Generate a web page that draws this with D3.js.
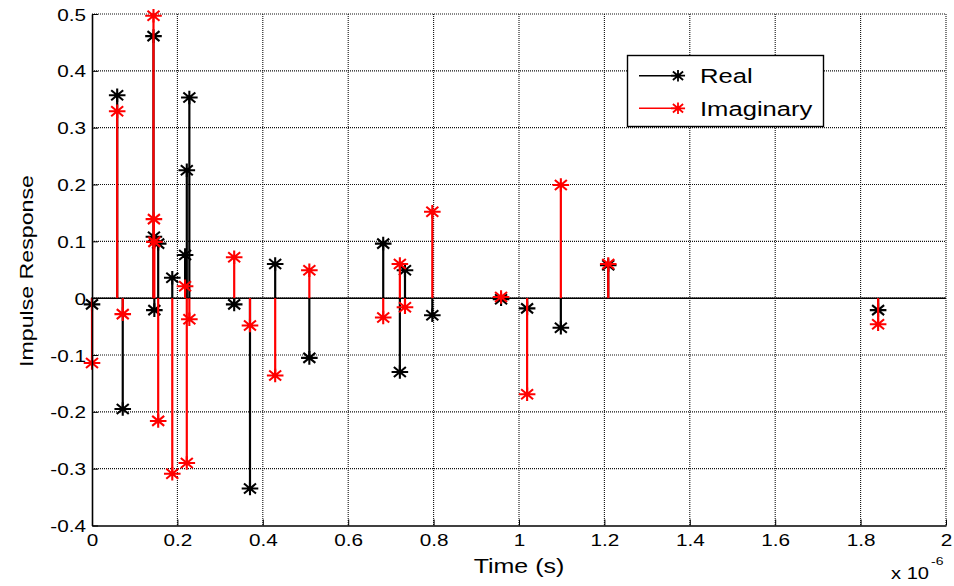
<!DOCTYPE html>
<html>
<head>
<meta charset="utf-8">
<script src="https://cdn.jsdelivr.net/npm/d3@7/dist/d3.min.js"></script>
<style>
  html, body { margin: 0; padding: 0; background: #fff; }
  svg { display: block; }
  text { font-family: "Liberation Sans", Arial, Helvetica, sans-serif; fill: #000; }
</style>
</head>
<body>
<svg id="chart" width="954" height="586"></svg>
<script>
// Sample times, in microseconds (axis multiplier x 10^-6)
const timeMicro = [0.000, 0.059, 0.072, 0.144, 0.145, 0.146, 0.155, 0.188, 0.218, 0.222, 0.228,
                   0.333, 0.370, 0.429, 0.509, 0.682, 0.721, 0.733, 0.797, 0.958, 1.019, 1.098,
                   1.209, 1.841];
// Real part of the impulse response
const realPart = [-0.011, 0.357, -0.195, 0.461, 0.108, -0.021, 0.096, 0.036, 0.076, 0.225, 0.353,
                  -0.011, -0.335, 0.060, -0.105, 0.096, -0.130, 0.049, -0.030, -0.002, -0.018, -0.052,
                  0.058, -0.021];
// Imaginary part of the impulse response
const imagPart = [-0.114, 0.329, -0.028, 0.497, 0.139, 0.099, -0.216, -0.309, 0.021, -0.290, -0.037,
                  0.072, -0.048, -0.136, 0.049, -0.034, 0.060, -0.016, 0.152, 0.002, -0.169, 0.199,
                  0.060, -0.046];

const xTicks = [0, 0.2, 0.4, 0.6, 0.8, 1, 1.2, 1.4, 1.6, 1.8, 2];
const yTicks = [-0.4, -0.3, -0.2, -0.1, 0, 0.1, 0.2, 0.3, 0.4, 0.5];
const seriesNames = ["Real", "Imaginary"];
const seriesColors = ["#000000", "#ff0000"];

// Text is drawn slightly wide, like the original figure export
const SX = 1.22;

const svg = d3.select("#chart");
const plotLeft = 92, plotRight = 946, plotTop = 14, plotBottom = 525.5;

const x = d3.scaleLinear().domain([0, 2]).range([plotLeft, plotRight]);
const y = d3.scaleLinear().domain([-0.4, 0.5]).range([plotBottom, plotTop]);

// Dotted grid
const grid = svg.append("g").attr("stroke", "#111").attr("stroke-width", 1.1)
  .attr("stroke-dasharray", "1,1");
grid.selectAll("line.gx").data(xTicks.filter(d => d > 0)).join("line")
  .attr("x1", d => x(d)).attr("x2", d => x(d)).attr("y1", plotTop).attr("y2", plotBottom);
grid.selectAll("line.gy").data(yTicks.filter(d => d > -0.4)).join("line")
  .attr("y1", d => y(d)).attr("y2", d => y(d)).attr("x1", plotLeft).attr("x2", plotRight);

// Stem baseline at zero
svg.append("line").attr("x1", plotLeft).attr("x2", plotRight)
  .attr("y1", y(0)).attr("y2", y(0)).attr("stroke", "#000").attr("stroke-width", 1.5);

// Asterisk marker: horizontal, vertical and two diagonal strokes
function asterisk(s) {
  const h = 8.3 * s, v = 6.8 * s, dx = 6 * s, dy = 5 * s;
  return `M${-h},0L${h},0M0,${-v}L0,${v}M${-dx},${-dy}L${dx},${dy}M${-dx},${dy}L${dx},${-dy}`;
}

function drawStems(values, color) {
  const g = svg.append("g");
  const pts = timeMicro.map((t, i) => ({ t, v: values[i] }));
  g.selectAll("line").data(pts).join("line")
    .attr("x1", d => x(d.t)).attr("x2", d => x(d.t))
    .attr("y1", y(0)).attr("y2", d => y(d.v))
    .attr("stroke", color).attr("stroke-width", 2.2);
  g.selectAll("path").data(pts).join("path")
    .attr("transform", d => `translate(${x(d.t)},${y(d.v)})`)
    .attr("d", asterisk(1))
    .attr("fill", "none").attr("stroke", color).attr("stroke-width", 2.1);
}
drawStems(realPart, seriesColors[0]);
drawStems(imagPart, seriesColors[1]);

// Axes with inward ticks
const xAxis = svg.append("g").attr("transform", `translate(0,${plotBottom})`)
  .call(d3.axisBottom(x).tickValues(xTicks).tickFormat(d3.format("~g"))
    .tickSizeInner(-6).tickSizeOuter(0).tickPadding(8));
const yAxis = svg.append("g").attr("transform", `translate(${plotLeft},0)`)
  .call(d3.axisLeft(y).tickValues(yTicks).tickFormat(d => d3.format("~g")(d).replace("−", "-"))
    .tickSizeInner(-6).tickSizeOuter(0).tickPadding(6));

[xAxis, yAxis].forEach(a => {
  a.select(".domain").attr("stroke", "#000").attr("stroke-width", 1.6);
  a.selectAll(".tick line").attr("stroke", "#000").attr("stroke-width", 1);
  a.selectAll("text").attr("font-size", 17)
    .attr("font-family", "Liberation Sans, Arial, sans-serif").attr("fill", "#000");
});
xAxis.selectAll("text").attr("transform", `scale(${SX},1)`);
yAxis.selectAll("text").attr("x", -6 / SX).attr("dy", "0.36em").attr("transform", `scale(${SX},1)`);

// Axis labels
function wideText(px, py, str, size, anchor, rot) {
  const g = svg.append("g").attr("transform", `translate(${px},${py})` + (rot ? ` rotate(${rot})` : ""));
  return g.append("text").attr("transform", `scale(${SX},1)`)
    .attr("font-size", size).attr("text-anchor", anchor).text(str);
}
wideText(519, 573, "Time (s)", 20.5, "middle", 0);
wideText(33, 271, "Impulse Response", 19, "middle", -90);

// Exponent multiplier for the time axis
wideText(891, 579, "x 10", 16.5, "start", 0);
wideText(931, 565, "-6", 11.5, "start", 0);

// Legend
const lg = svg.append("g");
lg.append("rect").attr("x", 627.5).attr("y", 55.5).attr("width", 196).attr("height", 71)
  .attr("fill", "#fff").attr("stroke", "#000").attr("stroke-width", 1.4);
const rowsY = [75.7, 108.3];
seriesNames.forEach((name, i) => {
  const yy = rowsY[i];
  lg.append("line").attr("x1", 639).attr("x2", 678).attr("y1", yy).attr("y2", yy)
    .attr("stroke", seriesColors[i]).attr("stroke-width", 1.4);
  lg.append("path").attr("transform", `translate(678,${yy})`).attr("d", asterisk(0.85))
    .attr("fill", "none").attr("stroke", seriesColors[i]).attr("stroke-width", 1.8);
  const tg = lg.append("g").attr("transform", `translate(700,${yy + 7.5})`);
  tg.append("text").attr("transform", `scale(${SX},1)`).attr("font-size", 21).text(name);
});
</script>
</body>
</html>
